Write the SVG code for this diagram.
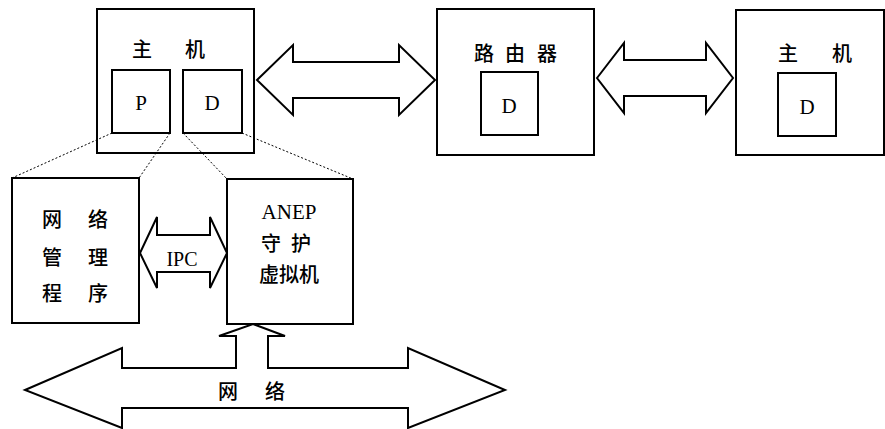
<svg xmlns="http://www.w3.org/2000/svg" width="885" height="429" viewBox="0 0 885 429">
<style>
.box{fill:#fff;stroke:#000;stroke-width:2}
.arr{fill:#fff;stroke:#000;stroke-width:2;stroke-linejoin:miter}
.dot{fill:none;stroke:#000;stroke-width:1;stroke-dasharray:2 2}
.cn{font-family:"Noto Sans CJK SC","Liberation Serif",sans-serif;font-size:20px;font-weight:500;fill:#000;text-anchor:middle;dominant-baseline:central}
.lt{font-family:"Liberation Serif",serif;font-size:21px;fill:#000;text-anchor:middle;dominant-baseline:central}
</style>
<rect width="885" height="429" fill="#fff"/>
<g id="host1">
<rect class="box" x="97" y="9" width="157" height="144"/>
<text class="cn" x="142" y="48">主</text>
<text class="cn" x="195" y="48">机</text>
<g id="host1-P"><rect class="box" x="112" y="70" width="58" height="63"/><text class="lt" x="141" y="103">P</text></g>
<g id="host1-D"><rect class="box" x="183" y="70" width="59" height="63"/><text class="lt" x="212" y="103">D</text></g>
</g>
<g id="router">
<rect class="box" x="437" y="9" width="157" height="146"/>
<text class="cn" x="484" y="52">路</text>
<text class="cn" x="515" y="52">由</text>
<text class="cn" x="547" y="52">器</text>
<g id="router-D"><rect class="box" x="481" y="72" width="57" height="63"/><text class="lt" x="509" y="106">D</text></g>
</g>
<g id="host2">
<rect class="box" x="736" y="10" width="148" height="145"/>
<text class="cn" x="788" y="52">主</text>
<text class="cn" x="842" y="52">机</text>
<g id="host2-D"><rect class="box" x="778" y="73" width="58" height="63"/><text class="lt" x="807" y="107">D</text></g>
</g>
<g id="netmgr">
<rect class="box" x="12" y="178" width="127" height="145"/>
<text class="cn" x="52" y="218">网</text><text class="cn" x="98" y="218">络</text>
<text class="cn" x="52" y="256">管</text><text class="cn" x="98" y="256">理</text>
<text class="cn" x="52" y="292">程</text><text class="cn" x="98" y="292">序</text>
</g>
<g id="anep">
<rect class="box" x="227" y="179" width="126" height="145"/>
<text class="lt" x="289" y="212">ANEP</text>
<text class="cn" x="271" y="242">守</text>
<text class="cn" x="301" y="242">护</text>
<text class="cn" x="289" y="273">虚拟机</text>
</g>
<g id="connectors">
<path class="arr" d="M257,80 L293,45 L293,62 L399,62 L399,45 L435,80 L399,115 L399,98 L293,98 L293,115 Z"/>
<path class="arr" d="M597,78 L624,43 L624,60 L706,60 L706,43 L733,78 L706,113 L706,96 L624,96 L624,113 Z"/>
<path class="arr" d="M140,253 L157,217 L157,235 L210,235 L210,217 L227,253 L210,288 L210,272 L157,272 L157,288 Z"/>
<text class="lt" x="182" y="259" style="font-size:20px">IPC</text>
<path class="arr" d="M25,390 L122,348 L122,368 L236,368 L236,336 L219,336 L253,324 L285,336 L268,336 L268,368 L408,368 L408,348 L505,390 L408,428 L408,408 L122,408 L122,428 Z"/>
<text class="cn" x="228" y="390">网</text>
<text class="cn" x="275" y="390">络</text>
<line class="dot" x1="112" y1="133" x2="12" y2="178"/>
<line class="dot" x1="170" y1="133" x2="139" y2="178"/>
<line class="dot" x1="183" y1="133" x2="227" y2="179"/>
<line class="dot" x1="242" y1="133" x2="353" y2="179"/>
</g>
</svg>
